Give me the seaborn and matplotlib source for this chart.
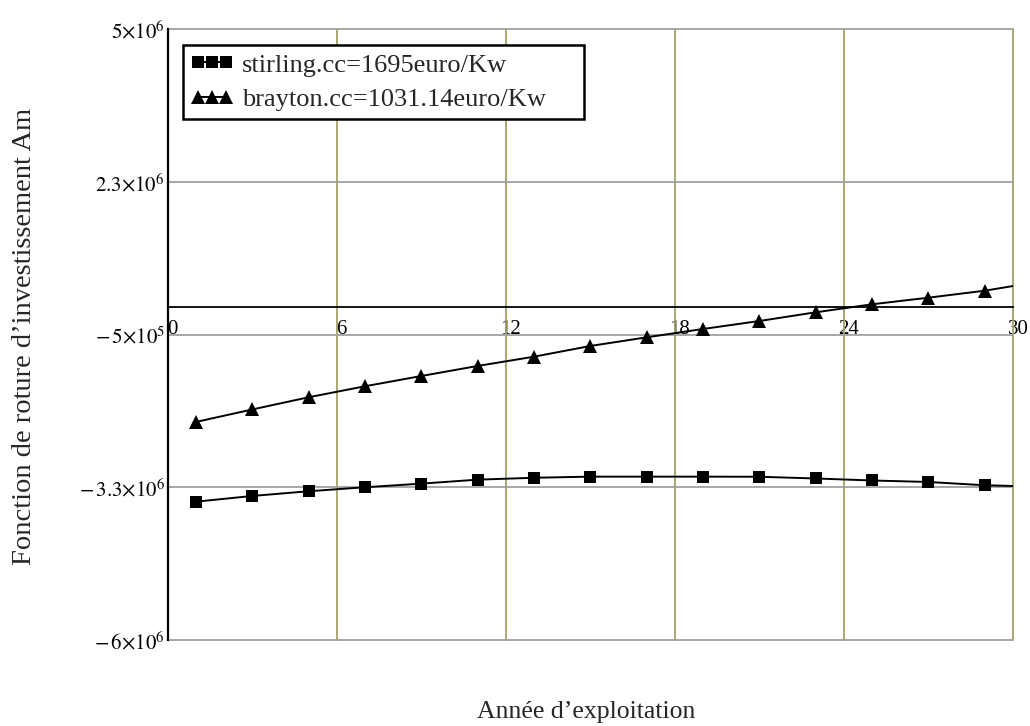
import matplotlib
matplotlib.use("Agg")
import matplotlib.pyplot as plt
import matplotlib.transforms as mtransforms
from matplotlib.lines import Line2D
import seaborn as sns
import pandas as pd

# Operating years (markers every two years, curve runs to year 30)
years = [1, 3, 5, 7, 9, 11, 13, 15, 17, 19, 21, 23, 25, 27, 29, 30]

# Investment return function Am (euro)
stirling = [-3.509e6, -3.406e6, -3.321e6, -3.249e6, -3.184e6, -3.112e6, -3.078e6, -3.058e6,
            -3.058e6, -3.058e6, -3.060e6, -3.091e6, -3.127e6, -3.154e6, -3.213e6, -3.226e6]
brayton = [-2.073e6, -1.848e6, -1.628e6, -1.430e6, -1.245e6, -1.064e6, -0.897e6, -0.704e6,
           -0.548e6, -0.398e6, -0.254e6, -0.097e6, 0.047e6, 0.166e6, 0.292e6, 0.376e6]

series_labels = ["stirling.cc=1695euro/Kw", "brayton.cc=1031.14euro/Kw"]

x_ticks = [0, 6, 12, 18, 24, 30]
y_ticks = [5e6, 2.25e6, -0.5e6, -3.25e6, -6e6]
y_tick_labels = [r"$5{\times}10^{6}$", r"$2.3{\times}10^{6}$", r"$-\,5{\times}10^{5}$",
                 r"$-\,3.3{\times}10^{6}$", r"$-\,6{\times}10^{6}$"]

df = pd.DataFrame({"year": years, "stirling": stirling, "brayton": brayton})

sns.set_style("white")
plt.rcParams["font.family"] = ["Liberation Serif", "DejaVu Serif"]
plt.rcParams["mathtext.fontset"] = "stix"

fig = plt.figure(figsize=(10.3, 7.26), dpi=100)
ax = fig.add_axes([0.1628, 0.1185, 0.8207, 0.8411])

marked = list(range(15))
sns.lineplot(data=df, x="year", y="stirling", ax=ax, color="black", linewidth=1.4,
             marker="s", markersize=8.5, markevery=marked, markeredgewidth=0, zorder=4)
sns.lineplot(data=df, x="year", y="brayton", ax=ax, color="black", linewidth=1.4,
             marker="^", markersize=9.5, markevery=marked, markeredgewidth=0, zorder=4)

ax.set_xlim(0, 30)
ax.set_ylim(-6e6, 5e6)

# Grid: olive verticals, grey horizontals
for xv in x_ticks[1:]:
    ax.axvline(xv, color="#a3a166", linewidth=1.3, zorder=1, clip_on=False)
for yv in y_ticks:
    ax.axhline(yv, color="#a0a0a0", linewidth=1.3, zorder=1, clip_on=False)

# Axes: left spine and the x axis drawn through zero
for s in ["top", "right"]:
    ax.spines[s].set_visible(False)
ax.spines["left"].set_color("black")
ax.spines["left"].set_linewidth(1.6)
ax.spines["bottom"].set_position(("data", 0))
ax.spines["bottom"].set_color("black")
ax.spines["bottom"].set_linewidth(1.3)
ax.spines["bottom"].set_zorder(2)

ax.set_xticks(x_ticks)
ax.set_xticklabels([str(v) for v in x_ticks])
ax.tick_params(axis="x", direction="inout", length=9, width=1.3, pad=5,
               labelsize=15, colors="black")
x_shift = mtransforms.ScaledTranslation(5 / 100, 0, fig.dpi_scale_trans)
for lbl in ax.get_xticklabels():
    lbl.set_horizontalalignment("center")
    lbl.set_transform(lbl.get_transform() + x_shift)

ax.set_yticks(y_ticks)
ax.set_yticklabels(y_tick_labels)
ax.tick_params(axis="y", direction="out", length=5, width=1.5, pad=-3,
               labelsize=15, colors="black")
y_shift = mtransforms.ScaledTranslation(0, -3 / 100, fig.dpi_scale_trans)
for lbl in ax.get_yticklabels():
    lbl.set_verticalalignment("center")
    lbl.set_transform(lbl.get_transform() + y_shift)

ax.set_xlabel("")
ax.set_ylabel("")
fig.text(0.569, 0.011, "Année d’exploitation", fontsize=18.5, ha="center", va="baseline")
fig.text(0.024, 0.537, "Fonction de roture d’investissement Am", fontsize=20.5,
         rotation=90, ha="center", va="center")

handles = [
    Line2D([], [], color="black", linewidth=1.4, marker="s", markersize=9, markeredgewidth=0),
    Line2D([], [], color="black", linewidth=1.4, marker="^", markersize=9.5, markeredgewidth=0),
]
leg = ax.legend(handles, series_labels, loc="upper left",
                bbox_to_anchor=(0.0177, 0.874, 0.4744, 0.1), mode="expand",
                borderaxespad=0, numpoints=3, handlelength=1.65, handletextpad=0.3,
                fontsize=19, frameon=True, fancybox=False, borderpad=0.3,
                labelspacing=0.42)
leg.get_frame().set_edgecolor("black")
leg.get_frame().set_linewidth(1.8)
leg.get_frame().set_facecolor("white")
leg.get_frame().set_alpha(1)
leg.set_zorder(6)

fig.savefig("out.png", dpi=100)
